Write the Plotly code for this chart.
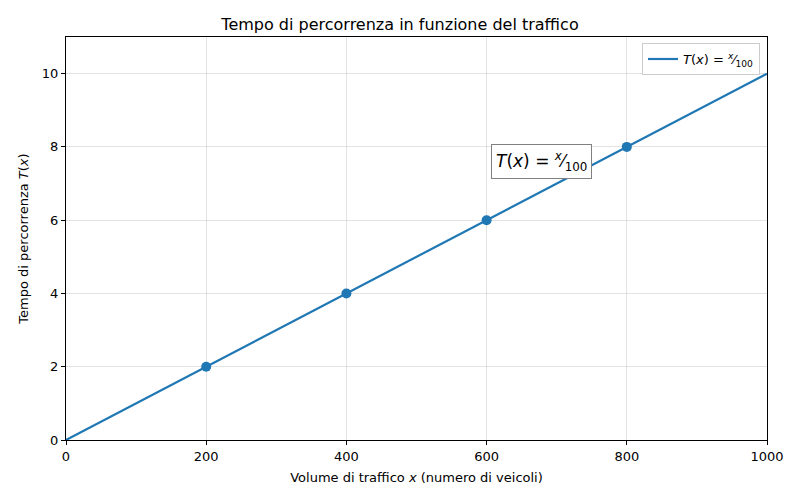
import plotly.graph_objects as go

line_x = [0, 1000]
line_y = [0, 10]
pts_x = [200, 400, 600, 800]
pts_y = [2, 4, 6, 8]
x_ticks = [0, 200, 400, 600, 800, 1000]
y_ticks = [0, 2, 4, 6, 8, 10]

blue = "#1f77b4"
formula = "<i>T</i>(<i>x</i>) = <sup><i>x</i></sup>\u2044<sub>100</sub>"

fig = go.Figure()
fig.add_trace(go.Scatter(x=line_x, y=line_y, mode="lines", line=dict(color=blue, width=2.2),
                         name=formula, showlegend=True))
fig.add_trace(go.Scatter(x=pts_x, y=pts_y, mode="markers", marker=dict(color=blue, size=10),
                         showlegend=False))

fig.add_annotation(x=679, y=7.6, xref="x", yref="y", text=formula, showarrow=False,
                   font=dict(size=17, color="black"), bgcolor="white",
                   bordercolor="#808080", borderwidth=1, borderpad=4)

axis_common = dict(showline=True, linecolor="black", linewidth=1, mirror=True,
                   ticks="outside", ticklen=4, tickcolor="black",
                   showgrid=True, gridcolor="rgba(176,176,176,0.35)", gridwidth=1,
                   zeroline=False, tickfont=dict(size=13, color="black"))

fig.update_layout(
    width=800, height=500,
    paper_bgcolor="white", plot_bgcolor="white",
    font=dict(family="DejaVu Sans", color="black"),
    margin=dict(l=66, r=33, t=37, b=60),
    title=dict(text="Tempo di percorrenza in funzione del traffico", x=0.5, xanchor="center",
               y=0.951, yanchor="middle", font=dict(size=16)),
    xaxis=dict(range=[0, 1000], tickvals=x_ticks,
               title=dict(text="Volume di traffico <i>x</i> (numero di veicoli)", font=dict(size=13), standoff=10),
               **axis_common),
    yaxis=dict(range=[0, 11], tickvals=y_ticks,
               title=dict(text="Tempo di percorrenza <i>T</i>(<i>x</i>)", font=dict(size=13), standoff=10),
               **axis_common),
    legend=dict(x=0.99, y=0.985, xanchor="right", yanchor="top", bgcolor="white",
                bordercolor="#cccccc", borderwidth=1, font=dict(size=13)),
)

fig.write_html("out.html")
